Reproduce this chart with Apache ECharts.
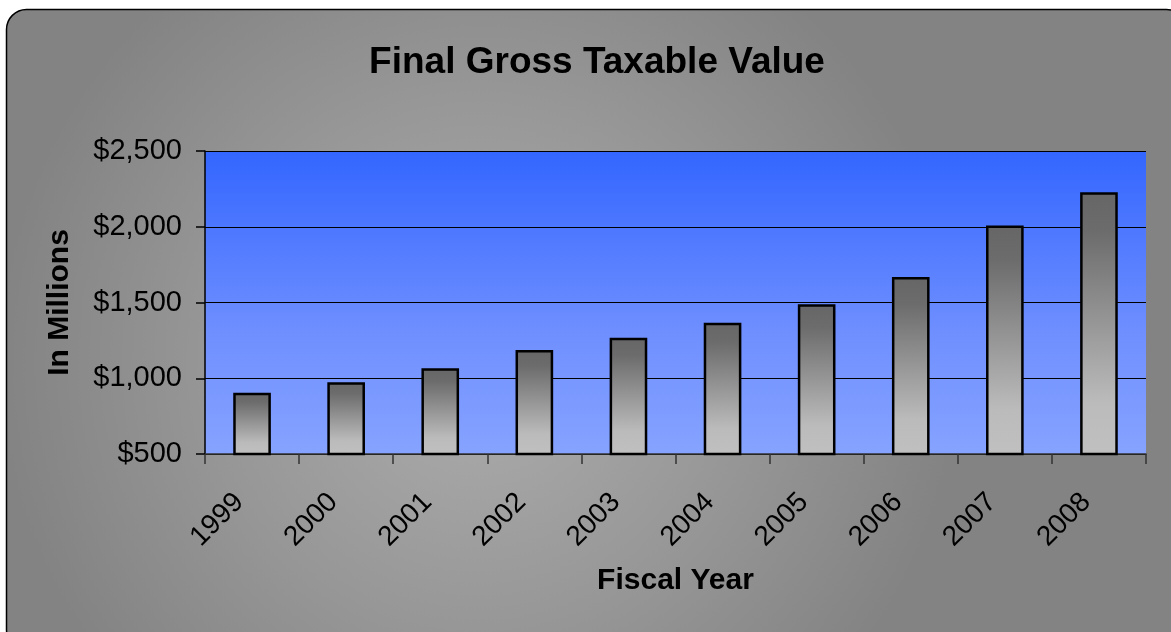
<!DOCTYPE html>
<html>
<head>
<meta charset="utf-8">
<script src="https://cdn.jsdelivr.net/npm/echarts@6/dist/echarts.min.js"></script>
<style>
  html, body { margin: 0; padding: 0; background: #ffffff; }
  #chart { width: 1171px; height: 632px; }
</style>
</head>
<body>
<div id="chart"></div>
<script>
// ---- data ----
const titleText = 'Final Gross Taxable Value';
const xAxisName = 'Fiscal Year';
const yAxisName = 'In Millions';
const categories = ['1999', '2000', '2001', '2002', '2003', '2004', '2005', '2006', '2007', '2008'];
const values = [905, 973, 1066, 1186, 1268, 1367, 1488, 1668, 2009, 2227];
const yMin = 500;
const yMax = 2500;
const yStep = 500;

// ---- chart ----
const FONT = '"Liberation Sans", Arial, sans-serif';
const chart = echarts.init(document.getElementById('chart'), null, { renderer: 'canvas' });

function money(v) {
  return '$' + String(v).replace(/\B(?=(\d{3})+(?!\d))/g, ',');
}

const option = {
  animation: false,
  backgroundColor: '#ffffff',
  graphic: [{
    type: 'rect',
    z: -100,
    silent: true,
    shape: { x: 6.5, y: 9.5, width: 1180, height: 640, r: 20 },
    style: {
      fill: {
        type: 'radial', x: 0.4, y: 0.55, r: 0.75,
        colorStops: [
          { offset: 0, color: '#adadad' },
          { offset: 0.55, color: '#979797' },
          { offset: 1, color: '#838383' }
        ]
      },
      stroke: '#000000',
      lineWidth: 1.5
    }
  }],
  title: {
    text: titleText,
    left: 592,
    textAlign: 'center',
    top: 39,
    textStyle: { fontFamily: FONT, fontSize: 37, fontWeight: 'bold', color: '#000' }
  },
  grid: {
    left: 205, right: 25, top: 151, bottom: 178,
    show: true,
    borderWidth: 0,
    backgroundColor: {
      type: 'linear', x: 0, y: 0, x2: 0, y2: 1,
      colorStops: [
        { offset: 0, color: '#3366ff' },
        { offset: 0.6, color: '#6f8fff' },
        { offset: 1, color: '#86a3ff' }
      ]
    }
  },
  xAxis: {
    type: 'category',
    data: categories,
    boundaryGap: true,
    name: xAxisName,
    nameLocation: 'middle',
    nameGap: 112,
    nameTextStyle: { fontFamily: FONT, fontSize: 30, fontWeight: 'bold', color: '#000' },
    axisLine: { show: true, lineStyle: { color: '#333', width: 1.5 } },
    axisTick: { show: true, length: 10, alignWithLabel: false, lineStyle: { color: '#333', width: 1.5 } },
    axisLabel: {
      rotate: 45,
      margin: 31,
      padding: [0, 18, 0, 0],
      fontFamily: FONT, fontSize: 28, color: '#000'
    },
    splitLine: { show: false }
  },
  yAxis: {
    type: 'value',
    min: yMin, max: yMax, interval: yStep,
    name: yAxisName,
    nameLocation: 'middle',
    nameRotate: 90,
    nameGap: 130,
    nameTextStyle: { fontFamily: FONT, fontSize: 30, fontWeight: 'bold', color: '#000' },
    axisLine: { show: true, lineStyle: { color: '#000', width: 1.5 } },
    axisTick: { show: true, length: 9, lineStyle: { color: '#000', width: 1.5 } },
    axisLabel: {
      margin: 23,
      formatter: money,
      fontFamily: FONT, fontSize: 29, color: '#000'
    },
    splitLine: { show: true, lineStyle: { color: '#000', width: 1.2 } }
  },
  series: [{
    type: 'bar',
    data: values,
    barWidth: '40%',
    itemStyle: {
      color: {
        type: 'linear', x: 0, y: 0, x2: 0, y2: 1,
        colorStops: [
          { offset: 0, color: '#666666' },
          { offset: 0.15, color: '#6c6c6c' },
          { offset: 0.8, color: '#bbbbbb' },
          { offset: 1, color: '#c0c0c0' }
        ]
      },
      borderColor: '#000000',
      borderWidth: 2.5
    }
  }]
};

chart.setOption(option);
</script>
</body>
</html>
